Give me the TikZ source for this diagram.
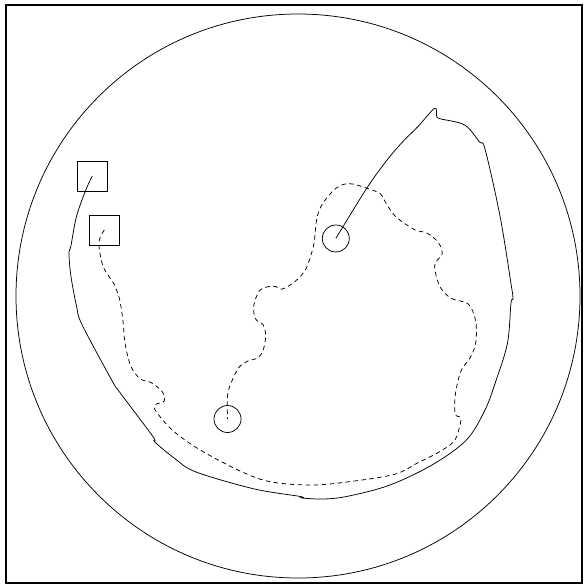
\documentclass[tikz,border=0pt]{standalone}
\usepackage{tikz}
\usetikzlibrary{positioning}
\tikzset{
  frame/.style={draw=black,line width=1.4pt},
  dish/.style={draw=black,line width=.75pt},
  probe/.style={circle,draw=black,line width=.75pt,minimum size=27pt,inner sep=0pt},
  port/.style={rectangle,draw=black,line width=.75pt,minimum size=30pt,inner sep=0pt},
  wall/.style={draw=black,line width=.75pt,smooth,tension=.55},
  trace/.style={wall,dash pattern=on 4.5pt off 3.5pt},
}
\begin{document}
\begin{tikzpicture}[x=1pt,y=-1pt]
  \useasboundingbox (0,0) rectangle (584,588);
  \draw[frame] (6,5) rectangle (582,583);
  \draw[dish] (298,296) circle (282);
  \node[port] (sqa) at (92.3,176) {};
  \node[port] (sqb) at (104.3,230) {};
  \node[probe] (ca) at (335.8,238.5) {};
  \node[probe] (cb) at (227.5,419) {};
  % solid outline
  \draw[wall] plot coordinates {(ca.center) (366.7,188.3) (386.7,160.5) (402,142.5)
    (418,126.5) (434.7,108.2)
    (436.6,115.7) (440,118.7) (464.6,125) (479.5,142) (485,149) (500,216) (511,283.6)
    (513,298.5) (511,303) (507.5,343) (496,380.6) (485,410) (466.4,440) (432.8,464.5)
    (390,485) (349,496) (324.6,499) (302,498) (300.4,496.5) (253.7,488.8) (196,472)
    (175.4,459) (154.9,442) (153,436.6) (119.4,391.8) (112,380.6) (82,324.6) (76.5,306)
    (70.9,276) (69,253.7) (70.9,246) (76.5,216.4) (85.8,190) (sqa.center)};
  % dashed outline
  \draw[trace] plot coordinates {(sqb.center) (98.9,242.5) (102.6,265) (110,278)
    (113.8,283.6) (119.4,298.5) (123,321) (125,343) (130.6,365.7) (140,378.7)
    (151,382.5) (162.3,391.8) (164.2,401) (154.9,404.9) (156.7,412.3) (175.4,432.8)
    (209,455) (261.2,479.5) (309.7,485) (354.5,481) (395.5,474) (418,462.7) (436.6,453.4)
    (453.4,442) (459,429) (460.8,418) (455.2,414) (455.2,395.5) (460.8,371.3) (470,358)
    (475.7,343) (475.7,321) (468.3,304) (451.5,298.5) (440.3,287.3) (434.7,268.7)
    (436.6,261.2) (442.2,253.7) (438.4,242.5) (427.2,233.2) (414.2,229.5) (395.5,216.4)
    (386.2,203.4) (380.6,194) (367.5,188.4) (348.9,183.6) (335.8,188.4) (322.8,203.4)
    (317.2,216.4) (315.3,231.3) (313.4,246.3) (306,268.7) (294.8,281.7) (281.7,289.2)
    (276,286.6) (268.7,286.6) (259.3,291) (253.7,306) (255.6,319) (263,324.6)
    (265.7,335.8) (263,350.7) (257.5,358) (248,361) (238.8,367.5) (231.3,382.5)
    (227.6,395.5) (cb.center)};
\end{tikzpicture}
\end{document}
